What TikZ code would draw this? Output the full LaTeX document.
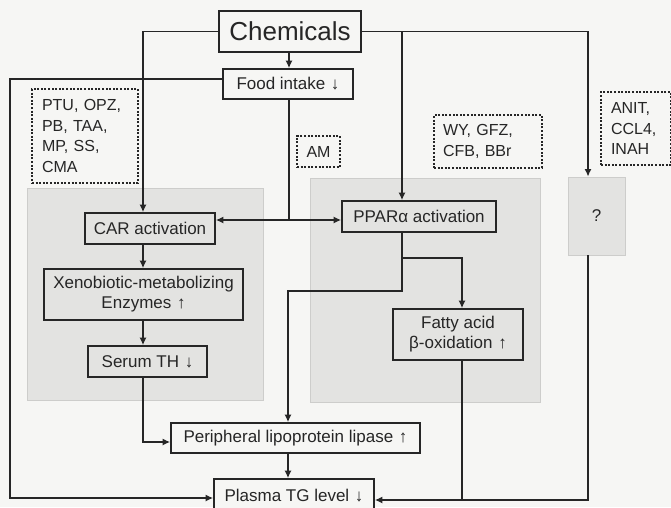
\documentclass[tikz,border=0pt]{standalone}
\usepackage{fontspec}
\setmainfont{Liberation Sans}
\usetikzlibrary{arrows.meta,calc}
\definecolor{bg}{HTML}{F6F6F4}
\definecolor{reg}{HTML}{E3E3E1}
\definecolor{regline}{HTML}{CDCDCB}
\definecolor{ink}{HTML}{262626}
\begin{document}
\begin{tikzpicture}[x=1pt,y=-1pt,
  conn/.style={draw=ink,line width=1.6pt},
  arr/.style={conn,-{Latex[length=7.5pt,width=7pt]}},
  box/.style={draw=ink,line width=1.6pt,fill=bg,text=ink,inner sep=0pt,align=center,font=\fontsize{17}{20}\selectfont},
  gbox/.style={box,fill=reg},
  dotbox/.style={draw=ink,line width=2pt,dash pattern=on 2pt off 1.6pt,fill=bg,text=ink,inner ysep=0pt,font=\fontsize{16}{20.5}\selectfont},
  region/.style={fill=reg,draw=regline,line width=0.6pt}]
\useasboundingbox (0,0) rectangle (671,507);
\clip (0,0) rectangle (671,507);
\fill[bg] (0,0) rectangle (671,507);
% shaded regions
\path[region] (27,188) rectangle (263,400);
\path[region] (310,178) rectangle (540,402);
% main boxes
\node[box,font=\fontsize{26}{30}\selectfont,minimum width=142pt,minimum height=41pt] (chem) at (290,31.5) {Chemicals};
\node[box,minimum width=130pt,minimum height=30pt] (food) at (288,84) {Food intake\,\,↓};
\node[gbox,minimum width=130pt,minimum height=31pt] (car) at (150,228.5) {CAR activation};
\node[gbox,minimum width=154pt,minimum height=31pt] (ppar) at (419,216.5) {PPARα activation};
\node[gbox,minimum width=199pt,minimum height=51pt] (xeno) at (143.5,294.5) {Xenobiotic-metabolizing\\Enzymes\,\,↑};
\node[gbox,minimum width=119pt,minimum height=31pt] (serum) at (147.5,361.5) {Serum TH\,\,↓};
\node[gbox,minimum width=130pt,minimum height=51pt] (fatty) at (458,334.5) {Fatty acid\\β-oxidation\,\,↑};
\node[box,minimum width=249pt,minimum height=30pt] (peri) at (295.5,438) {Peripheral lipoprotein lipase\,\,↑};
\node[box,minimum width=160pt,minimum height=34pt] (plasma) at (294,496) {Plasma TG level\,\,↓};
\node[gbox,draw=regline,line width=0.8pt,minimum width=57pt,minimum height=78pt] (q) at (596.5,216) {?};
% dotted chemical lists
\node[dotbox,text width=86pt,inner xsep=10pt,align=left,minimum height=94pt] (ptu) at (85,136) {PTU, OPZ,\\PB, TAA,\\MP, SS,\\CMA};
\node[dotbox,inner xsep=0pt,minimum width=43pt,minimum height=31pt] (am) at (318.5,151.5) {AM};
\node[dotbox,text width=90pt,inner xsep=9pt,align=left,minimum height=53pt] (wy) at (488,141.5) {WY, GFZ,\\CFB, BBr};
\node[dotbox,text width=50pt,inner xsep=10pt,align=left,minimum height=73pt] (anit) at (636,128.5) {ANIT,\\CCL4,\\INAH};
% helper coordinates
\coordinate (xa) at (143,0);
\coordinate (xb) at (402,0);
\coordinate (xc) at (588,0);
\coordinate (xd) at (289,0);
\coordinate (xe) at (462,0);
\coordinate (xf) at (10,0);
\coordinate (xg) at (288,0);
\coordinate (yfood) at (0,79);
\coordinate (yj) at (0,220);
\coordinate (yb1) at (0,258);
\coordinate (yb2) at (0,291);
\coordinate (ys) at (0,442);
\coordinate (yl) at (0,498);
\coordinate (yr) at (0,500);
% connectors
\draw[arr] (chem.west) -| (xa |- car.north);
\draw[arr] (chem.east) -| (xc |- q.north);
\draw[arr] (xb |- chem.east) -- (xb |- ppar.north);
\draw[arr] (xd |- chem.south) -- (xd |- food.north);
\draw[arr] (food.west |- yfood) -- (xf |- yfood) -- (xf |- yl) -- (plasma.west |- yl);
\draw[conn] (xd |- food.south) -- (xd |- yj);
\draw[arr] (xd |- yj) -- (car.east |- yj);
\draw[arr] (xd |- yj) -- (ppar.west |- yj);
\draw[arr] (xa |- car.south) -- (xa |- xeno.north);
\draw[arr] (xa |- xeno.south) -- (xa |- serum.north);
\draw[arr] (xa |- serum.south) -- (xa |- ys) -- (peri.west |- ys);
\draw[arr] (xb |- ppar.south) -- (xb |- yb2) -- (xg |- yb2) -- (xg |- peri.north);
\draw[arr] (xb |- yb1) -- (xe |- yb1) -- (xe |- fatty.north);
\draw[arr] (xe |- fatty.south) -- (xe |- yr) -- (plasma.east |- yr);
\draw[conn] (xc |- q.south) -- (xc |- yr) -- (xe |- yr);
\draw[arr] (xg |- peri.south) -- (xg |- plasma.north);
\end{tikzpicture}
\end{document}
